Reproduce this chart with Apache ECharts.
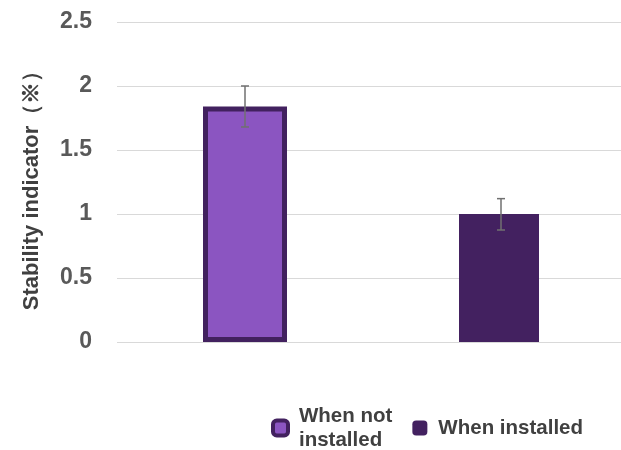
<!DOCTYPE html>
<html><head><meta charset="utf-8">
<script src="https://cdn.jsdelivr.net/npm/echarts@6/dist/echarts.min.js"></script>
<style>html,body{margin:0;padding:0;background:#fff}#c{width:621px;height:450px}</style>
</head><body><div id="c"></div>
<script>
const categories = ['When not installed', 'When installed'];
const seriesNames = ['When not installed', 'When installed'];
const values = [1.84, 1.0];
const errLow = [1.68, 0.875];
const errHigh = [2.0, 1.12];
const yTicks = [0, 0.5, 1, 1.5, 2, 2.5];

const chart = echarts.init(document.getElementById('c'));
const errData = categories.map((c, i) => [i, errLow[i], errHigh[i]]);
chart.setOption({
  animation: false,
  textStyle: {fontFamily: 'Liberation Sans, Arial, sans-serif'},
  grid: {left: 117, top: 22, right: 0, height: 320},
  legend: {
    left: 266, top: 399, itemWidth: 15, itemHeight: 15, itemGap: 20,
    textStyle: {fontSize: 20.5, fontWeight: 'bold', color: '#404040', lineHeight: 24, padding: [0, 0, 0, 6]},
    data: [
      {name: seriesNames[0], itemStyle: {borderWidth: 4, borderColor: '#42215f'}},
      {name: seriesNames[1]}
    ],
    formatter: n => n === 'When not installed' ? 'When not\ninstalled' : n
  },
  xAxis: {
    type: 'value', min: -0.5, max: 1.46875,
    axisLine: {show: false}, axisTick: {show: false}, axisLabel: {show: false}, splitLine: {show: false}
  },
  yAxis: {
    type: 'value', min: 0, max: 2.5, interval: 0.5,
    name: 'Stability indicator（※）', nameLocation: 'middle', nameGap: 74,
    nameTextStyle: {fontSize: 22, fontWeight: 'bold', color: '#404040', padding: [0, 6, 0, 0]},
    axisLabel: {fontSize: 23, fontWeight: 'bold', color: '#595959', margin: 25, formatter: v => String(v)},
    splitLine: {lineStyle: {color: '#d9d9d9', width: 1}},
    axisLine: {show: false}, axisTick: {show: false}
  },
  series: [
    {
      name: seriesNames[1], type: 'bar', barWidth: 80, barGap: '-100%',
      data: [[1, values[1]]],
      itemStyle: {color: '#432160'}
    },
    {
      name: seriesNames[0], type: 'bar', barWidth: 84, barGap: '-100%',
      data: [[0, values[0]]],
      itemStyle: {color: '#8b55c1', borderColor: '#42215f', borderWidth: 5}
    },
    {
      type: 'custom', silent: true, z: 10,
      data: errData,
      renderItem: (params, api) => {
        const x = api.value(0);
        const lo = api.coord([x, api.value(1)]);
        const hi = api.coord([x, api.value(2)]);
        const w = 4;
        const st = {stroke: '#707070', lineWidth: 1.5};
        return {type: 'group', children: [
          {type: 'line', shape: {x1: hi[0], y1: hi[1], x2: lo[0], y2: lo[1]}, style: st},
          {type: 'line', shape: {x1: hi[0]-w, y1: hi[1], x2: hi[0]+w, y2: hi[1]}, style: st},
          {type: 'line', shape: {x1: lo[0]-w, y1: lo[1], x2: lo[0]+w, y2: lo[1]}, style: st}
        ]};
      }
    }
  ]
});
</script></body></html>
